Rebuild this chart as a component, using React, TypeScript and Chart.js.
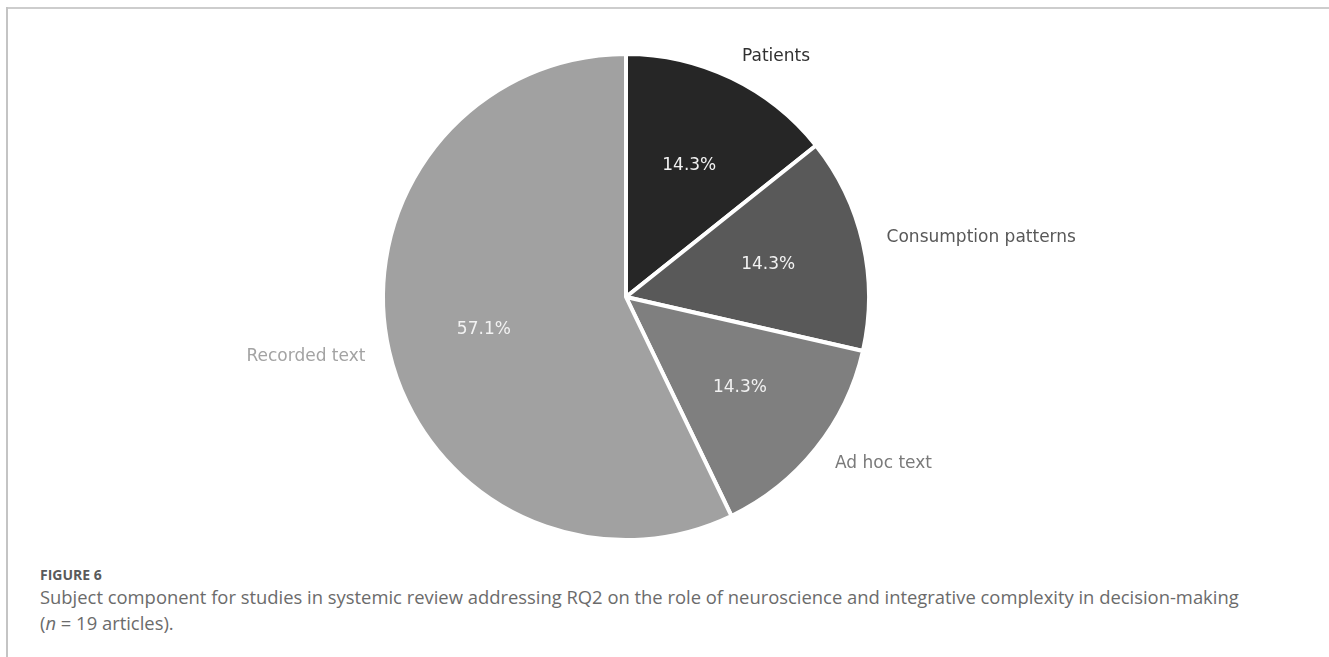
import React, { useEffect, useRef } from "react";
import { Chart, registerables } from "chart.js";

Chart.register(...registerables);

// Subject components (article counts) and their styling
const categories = ["Patients", "Consumption patterns", "Ad hoc text", "Recorded text"];
const counts = [1, 1, 1, 4];
const sliceColors = ["#262626", "#595959", "#7f7f7f", "#a1a1a1"];
const labelColors = ["#303030", "#585858", "#7a7a7a", "#a3a3a3"];

const captionTitle = "FIGURE 6";
const captionText =
  "Subject component for studies in systemic review addressing RQ2 on the role of neuroscience and integrative complexity in decision-making";

// Draws the percentage inside each wedge and the category name just outside it
const sliceLabels = {
  id: "sliceLabels",
  afterDatasetsDraw(chart: any) {
    const ctx = chart.ctx as CanvasRenderingContext2D;
    const meta = chart.getDatasetMeta(0);
    const total = counts.reduce((a, b) => a + b, 0);
    ctx.save();
    ctx.font = '17px "DejaVu Sans"';
    ctx.textBaseline = "middle";
    meta.data.forEach((arc: any, i: number) => {
      const { x, y, startAngle, endAngle, outerRadius } = arc.getProps(
        ["x", "y", "startAngle", "endAngle", "outerRadius"],
        true
      );
      const mid = (startAngle + endAngle) / 2;
      const cos = Math.cos(mid);
      const sin = Math.sin(mid);
      const pct = ((counts[i] / total) * 100).toFixed(1) + "%";
      ctx.fillStyle = "#f2f2f2";
      ctx.textAlign = "center";
      ctx.fillText(pct, x + cos * outerRadius * 0.6, y + sin * outerRadius * 0.6);

      const lx = x + cos * outerRadius * 1.1;
      const ly = y + sin * outerRadius * 1.1;
      ctx.textAlign = lx > x ? "left" : "right";
      ctx.fillStyle = labelColors[i];
      ctx.fillText(categories[i], lx, ly);
    });
    ctx.restore();
  },
};

export default function App() {
  const canvasRef = useRef<HTMLCanvasElement | null>(null);

  useEffect(() => {
    if (!canvasRef.current) return;
    const chart = new Chart(canvasRef.current, {
      type: "pie",
      data: {
        labels: categories,
        datasets: [
          {
            data: counts,
            backgroundColor: sliceColors,
            borderColor: "#ffffff",
            borderWidth: 4,
          },
        ],
      },
      options: {
        animation: false,
        responsive: false,
        maintainAspectRatio: false,
        layout: { padding: { top: 52, bottom: 18, left: 381, right: 458 } },
        plugins: {
          legend: { display: false },
          tooltip: { enabled: false },
        },
      },
      plugins: [sliceLabels],
    });
    return () => chart.destroy();
  }, []);

  return (
    <div
      style={{
        position: "fixed",
        left: 0,
        top: 0,
        width: 1329,
        height: 657,
        background: "#ffffff",
        overflow: "hidden",
      }}
    >
      <div style={{ position: "absolute", left: 6, top: 7, width: 1323, height: 2, background: "#cdcdcd" }} />
      <div style={{ position: "absolute", left: 6, top: 7, width: 2, height: 650, background: "#c4c4c4" }} />
      <canvas
        ref={canvasRef}
        width={1329}
        height={560}
        style={{ position: "absolute", left: 0, top: 0, width: 1329, height: 560 }}
      />
      <div
        style={{
          position: "absolute",
          left: 40,
          top: 565,
          fontFamily: '"Open Sans", sans-serif',
          fontWeight: 700,
          fontSize: 14,
          lineHeight: "20px",
          color: "#5a5a5a",
          whiteSpace: "nowrap",
        }}
      >
        {captionTitle}
      </div>
      <div
        style={{
          position: "absolute",
          left: 40,
          top: 584,
          fontFamily: '"Open Sans", sans-serif',
          fontSize: 18.4,
          lineHeight: "26px",
          color: "#6b6b6b",
          whiteSpace: "nowrap",
        }}
      >
        <div>{captionText}</div>
        <div>
          (<i>n</i> = 19 articles).
        </div>
      </div>
    </div>
  );
}
